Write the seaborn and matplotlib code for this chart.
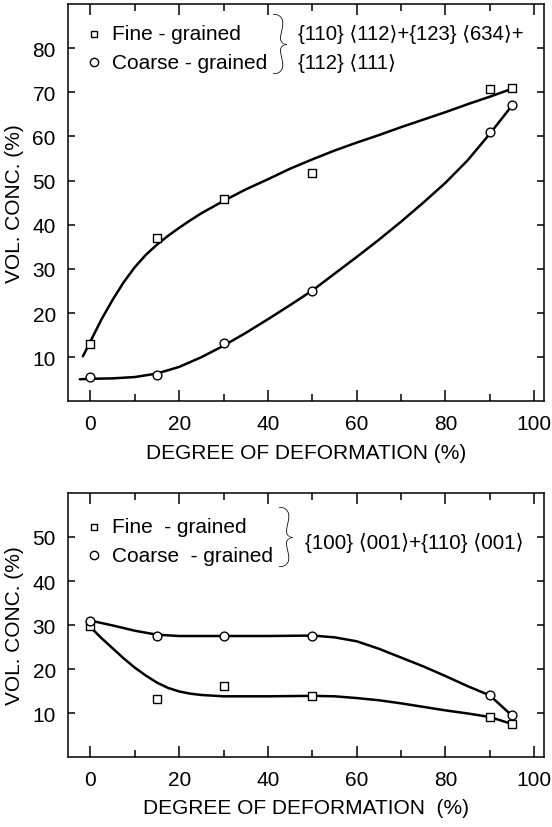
import matplotlib
matplotlib.use("Agg")
import matplotlib.pyplot as plt
import seaborn as sns

# puntos medidos (grado de deformación en %)
deform = [0, 15, 30, 50, 90, 95]

# panel superior: {110}<112> + {123}<634> + {112}<111>
top_fine = [12.9, 37.0, 45.8, 51.8, 70.7, 71.0]
top_coarse = [5.6, 6.0, 13.2, 25.1, 61.1, 67.1]

# curvas de tendencia dibujadas a mano
top_fine_cx = [-1.7, 0, 2.5, 5, 7.5, 10, 12.5, 15, 17.5, 20, 22.5, 25, 27.5, 30,
               35, 40, 45, 50, 55, 60, 65, 70, 75, 80, 85, 90, 95]
top_fine_cy = [10.2, 13.6, 18.6, 23.0, 27.0, 30.4, 33.2, 35.5, 37.5, 39.3, 41.0, 42.6, 44.0, 45.4,
               48.0, 50.3, 52.7, 54.8, 56.8, 58.6, 60.3, 62.1, 63.8, 65.5, 67.3, 69.0, 70.8]
top_coarse_cx = [-2.4, 0, 5, 10, 15, 20, 25, 30, 35, 40, 45, 50, 55, 60, 65, 70, 75,
                 80, 85, 90, 95]
top_coarse_cy = [5.0, 5.1, 5.2, 5.5, 6.3, 7.8, 10.0, 12.6, 15.5, 18.6, 21.8, 25.1, 28.9, 32.7,
                 36.6, 40.7, 45.0, 49.5, 54.6, 60.6, 67.0]

# panel inferior: {100}<001> + {110}<001>
bot_fine = [29.8, 13.2, 16.1, 13.9, 9.2, 7.5]
bot_coarse = [31.0, 27.4, 27.6, 27.6, 14.2, 9.5]

bot_fine_cx = [0, 2.5, 5, 7.5, 10, 12.5, 15, 17.5, 20, 22.5, 25, 30, 40, 50, 55, 60, 65,
               70, 75, 80, 85, 90, 95]
bot_fine_cy = [29.5, 27.0, 24.7, 22.4, 20.3, 18.5, 16.9, 15.7, 14.9, 14.4, 14.1, 13.8, 13.8,
               13.9, 13.8, 13.4, 12.9, 12.2, 11.4, 10.6, 9.9, 9.1, 7.5]
bot_coarse_cx = [0, 5, 10, 15, 20, 30, 40, 50, 55, 60, 65, 70, 75, 80, 85, 90, 95]
bot_coarse_cy = [31.0, 29.9, 28.7, 27.8, 27.5, 27.5, 27.5, 27.6, 27.2, 26.3, 24.6, 22.6, 20.6,
                 18.4, 16.1, 14.0, 9.4]

legend_labels_top = ["Fine - grained", "Coarse - grained"]
legend_labels_bot = ["Fine  - grained", "Coarse  - grained"]
top_texture = ["{110} ⟨112⟩+{123} ⟨634⟩+", "{112} ⟨111⟩"]
bot_texture = "{100} ⟨001⟩+{110} ⟨001⟩"
xlabels = ["DEGREE OF DEFORMATION (%)", "DEGREE OF DEFORMATION  (%)"]

sns.set_style("ticks")
plt.rcParams['font.family'] = ['Liberation Sans', 'DejaVu Sans']
plt.rcParams['axes.linewidth'] = 1.1
plt.rcParams['text.color'] = 'black'
plt.rcParams['axes.labelcolor'] = 'black'
plt.rcParams['xtick.color'] = 'black'
plt.rcParams['ytick.color'] = 'black'
plt.rcParams['axes.edgecolor'] = 'black'

fig = plt.figure(figsize=(5.52, 8.28), dpi=100)
ax_top = fig.add_axes([0.1237, 0.5141, 0.8618, 0.4799])
ax_bot = fig.add_axes([0.1237, 0.0845, 0.8618, 0.3189])


def draw_panel(ax, fine, coarse, fcx, fcy, ccx, ccy, ymax, yticks, xlabel):
    sns.lineplot(x=fcx, y=fcy, sort=False, estimator=None, color="black", lw=1.8, ax=ax)
    sns.lineplot(x=ccx, y=ccy, sort=False, estimator=None, color="black", lw=1.8, ax=ax)
    sns.scatterplot(x=deform, y=fine, marker="s", s=28, facecolor="white",
                    edgecolor="black", linewidth=1.0, zorder=5, ax=ax)
    sns.scatterplot(x=deform, y=coarse, marker="o", s=40, facecolor="white",
                    edgecolor="black", linewidth=1.0, zorder=5, ax=ax)
    ax.set_xlim(-5, 102.2)
    ax.set_ylim(0, ymax)
    ax.set_xticks([0, 20, 40, 60, 80, 100])
    ax.set_xticks([10, 30, 50, 70, 90], minor=True)
    ax.set_yticks(yticks)
    ax.tick_params(which="both", direction="in", top=True, right=True,
                   labelsize=15, pad=9, width=1.1)
    ax.tick_params(axis="x", which="major", length=8)
    ax.tick_params(axis="x", which="minor", length=5)
    ax.tick_params(axis="y", length=5)
    ax.set_xlabel(xlabel, fontsize=15, labelpad=7)
    ax.set_ylabel("VOL. CONC. (%)", fontsize=15, labelpad=6)


draw_panel(ax_top, top_fine, top_coarse, top_fine_cx, top_fine_cy,
           top_coarse_cx, top_coarse_cy, 90, list(range(10, 90, 10)), xlabels[0])
draw_panel(ax_bot, bot_fine, bot_coarse, bot_fine_cx, bot_fine_cy,
           bot_coarse_cx, bot_coarse_cy, 60, list(range(10, 60, 10)), xlabels[1])

# leyenda hecha a mano, como en el original
for ax, labels, y1, y2, xb, yb in [
        (ax_top, legend_labels_top, 83.2, 76.8, 42.4, 80.3),
        (ax_bot, legend_labels_bot, 52.3, 45.9, 43.8, 49.5)]:
    ax.plot([0.8], [y1], marker="s", ms=5, mfc="white", mec="black", mew=1.0)
    ax.plot([0.8], [y2], marker="o", ms=6, mfc="white", mec="black", mew=1.0)
    ax.text(4.8, y1, labels[0], fontsize=15, va="center")
    ax.text(4.8, y2, labels[1], fontsize=15, va="center")
    ax.text(xb, yb, "}", fontsize=50, family=["Lato", "DejaVu Sans"],
            fontweight="light", ha="center", va="center")

ax_top.text(46.8, 83.2, top_texture[0], fontsize=14.6, va="center")
ax_top.text(46.8, 76.8, top_texture[1], fontsize=14.6, va="center")
ax_bot.text(48.4, 48.8, bot_texture, fontsize=14.8, va="center")

fig.savefig("out.png", dpi=100)
plt.close(fig)
